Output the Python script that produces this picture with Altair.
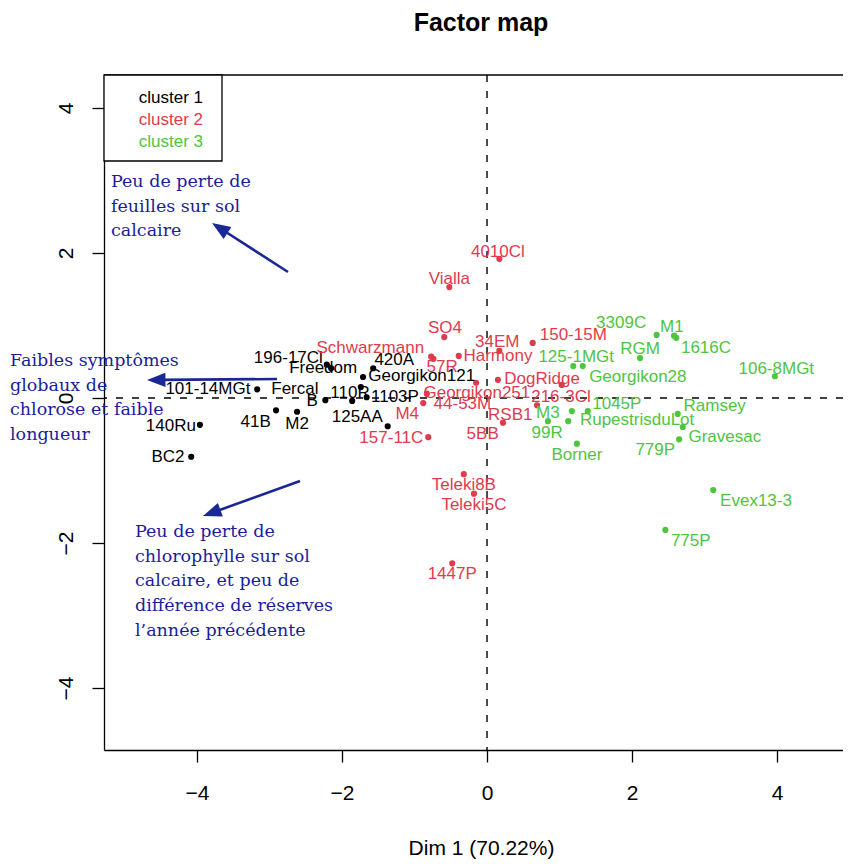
import math
import altair as alt
import pandas as pd

# ---------------- data ----------------
cluster_names = ["cluster 1", "cluster 2", "cluster 3"]
cluster_colors = ["#000000", "#DF3B4E", "#4FC43F"]

c1_names = ["196-17Cl", "Freedom", "420A", "Georgikon121", "110R", "1103P", "Fercal", "B",
            "125AA", "101-14MGt", "41B", "M2", "140Ru", "BC2"]
c1_x = [-2.21, -2.15, -1.57, -1.71, -1.74, -1.66, -2.23, -1.86, -1.37, -3.17, -2.91, -2.62, -3.96, -4.08]
c1_y = [0.46, 0.41, 0.41, 0.29, 0.15, 0.01, -0.03, -0.04, -0.39, 0.12, -0.17, -0.19, -0.37, -0.81]
c1_lx = [-2.74, -2.26, -1.28, -0.90, -1.89, -1.27, -2.65, -2.41, -1.79, -3.85, -3.19, -2.62, -4.36, -4.40]
c1_ly = [0.55, 0.41, 0.52, 0.30, 0.07, 0.01, 0.12, -0.04, -0.26, 0.12, -0.33, -0.36, -0.39, -0.81]

c2_names = ["4010Cl", "Vialla", "SO4", "34EM", "150-15M", "Schwarzmann", "Harmony", "57R", "DogRidge",
            "Georgikon251", "44-53M", "M4", "216-3Cl", "RSB1", "5BB", "157-11C", "Teleki8B", "Teleki5C", "1447P"]
c2_x = [0.17, -0.52, -0.59, 0.17, 0.63, -0.77, -0.39, -0.74, 0.15, -0.15, -0.83, -0.88, 1.03, 0.69, 0.22,
        -0.81, -0.32, -0.18, -0.48]
c2_y = [1.92, 1.53, 0.84, 0.65, 0.76, 0.57, 0.58, 0.54, 0.25, 0.21, 0.06, -0.07, 0.18, -0.10, -0.34,
        -0.54, -1.05, -1.32, -2.28]
c2_lx = [0.15, -0.52, -0.58, 0.14, 1.19, -1.61, 0.15, -0.62, 0.76, -0.14, -0.34, -1.10, 1.02, 0.32, -0.06,
         -1.32, -0.32, -0.18, -0.48]
c2_ly = [2.01, 1.64, 0.97, 0.77, 0.87, 0.69, 0.58, 0.43, 0.26, 0.07, -0.08, -0.22, 0.01, -0.23, -0.50,
         -0.55, -1.20, -1.48, -2.43]

c3_names = ["3309C", "M1", "1616C", "RGM", "125-1MGt", "Georgikon28", "106-8MGt", "1045P", "M3",
            "RupestrisduLot", "99R", "Borner", "Ramsey", "779P", "Gravesac", "Evex13-3", "775P"]
c3_x = [2.34, 2.58, 2.61, 2.11, 1.19, 1.32, 3.97, 1.39, 1.17, 1.12, 0.84, 1.24, 2.63, 2.70, 2.65, 3.12, 2.46]
c3_y = [0.87, 0.86, 0.83, 0.55, 0.44, 0.44, 0.30, -0.18, -0.18, -0.32, -0.32, -0.63, -0.22, -0.40, -0.57,
        -1.27, -1.82]
c3_lx = [1.85, 2.55, 3.02, 2.11, 1.23, 2.08, 3.99, 1.79, 0.84, 2.07, 0.83, 1.24, 3.14, 2.32, 3.28, 3.71, 2.81]
c3_ly = [1.03, 0.98, 0.69, 0.68, 0.57, 0.29, 0.40, -0.08, -0.21, -0.30, -0.48, -0.79, -0.11, -0.72, -0.54,
         -1.42, -1.97]

tick_values = [-4, -2, 0, 2, 4]

annot_texts = [
    "Peu de perte de\nfeuilles sur sol\ncalcaire",
    "Faibles symptômes\nglobaux de\nchlorose et faible\nlongueur",
    "Peu de perte de\nchlorophylle sur sol\ncalcaire, et peu de\ndifférence de réserves\nl\u2019année précédente",
]

# ---------------- layout (pixels, relative to plot area) ----------------
W, H = 739, 675
X_DOMAIN = [-5.283, 4.910]
Y_DOMAIN = [-4.855, 4.455]
BLUE = "#1C1C9C"
ARROW_BLUE = "#1A2896"
annot_pos = [(7, 112), (-94, 291), (31, 462)]
arrows = [((184, 197), (108, 148)), ((173, 304), (43, 305)), ((196, 406), (99, 441))]

rows = []
for cl, names, xs_, ys_, lxs, lys in [
    (cluster_names[0], c1_names, c1_x, c1_y, c1_lx, c1_ly),
    (cluster_names[1], c2_names, c2_x, c2_y, c2_lx, c2_ly),
    (cluster_names[2], c3_names, c3_x, c3_y, c3_lx, c3_ly),
]:
    for n, x, y, lx, ly in zip(names, xs_, ys_, lxs, lys):
        rows.append(dict(cluster=cl, name=n, x=x, y=y, lx=lx, ly=ly))
df = pd.DataFrame(rows)

xs = alt.Scale(domain=X_DOMAIN, nice=False, zero=False)
ys = alt.Scale(domain=Y_DOMAIN, nice=False, zero=False)
cscale = alt.Scale(domain=cluster_names, range=cluster_colors)

FONT = "Liberation Sans"
x_axis = alt.Axis(values=tick_values, title="Dim 1 (70.22%)", grid=False,
                  domainColor="black", domainWidth=1.3, tickColor="black", tickWidth=1.3, tickSize=12,
                  labelFont=FONT, labelFontSize=21, labelColor="black", labelPadding=20,
                  titleFont=FONT, titleFontSize=21, titleFontWeight="normal", titleColor="black",
                  titleX=377, titleY=104, titleAlign="center", titleBaseline="alphabetic")
y_axis = alt.Axis(values=tick_values, title=None, grid=False,
                  domainColor="black", domainWidth=1.3, tickColor="black", tickWidth=1.3, tickSize=12,
                  labelFont=FONT, labelFontSize=21, labelColor="black", labelPadding=20,
                  labelAngle=270, labelAlign="center", labelBaseline="alphabetic")

one = pd.DataFrame({"k": [0]})
zero = pd.DataFrame({"v": [0]})

top_frame = alt.Chart(one).mark_rule(color="black", strokeWidth=1.3).encode(
    x=alt.value(0), x2=alt.value(W), y=alt.value(0))

vline = alt.Chart(zero).mark_rule(color="black", strokeWidth=1.4, strokeDash=[7, 9]).encode(
    x=alt.X("v:Q", scale=xs, axis=x_axis))
hline = alt.Chart(zero).mark_rule(color="black", strokeWidth=1.4, strokeDash=[7, 9]).encode(
    y=alt.Y("v:Q", scale=ys, axis=y_axis))

points = alt.Chart(df).mark_point(filled=True, size=38, opacity=1).encode(
    x=alt.X("x:Q", scale=xs, axis=x_axis),
    y=alt.Y("y:Q", scale=ys, axis=y_axis),
    color=alt.Color("cluster:N", scale=cscale, legend=None))

labels = alt.Chart(df).mark_text(font=FONT, fontSize=17, align="center", baseline="middle").encode(
    x=alt.X("lx:Q", scale=xs, axis=x_axis),
    y=alt.Y("ly:Q", scale=ys, axis=y_axis),
    text="name:N",
    color=alt.Color("cluster:N", scale=cscale, legend=None))

layers = [top_frame, vline, hline, points, labels]

# legend box
layers.append(alt.Chart(one).mark_rect(fill="white", stroke="black", strokeWidth=1.3).encode(
    x=alt.value(0), x2=alt.value(118), y=alt.value(0), y2=alt.value(86)))
for i, (nm, col) in enumerate(zip(cluster_names, cluster_colors)):
    layers.append(alt.Chart(one).mark_text(text=nm, font=FONT, fontSize=17, color=col,
                                           align="right", baseline="alphabetic").encode(
        x=alt.value(99), y=alt.value(28 + 22 * i)))

# arrows
for (x0, y0), (x1, y1) in arrows:
    ang = math.degrees(math.atan2(x1 - x0, -(y1 - y0))) % 360
    L = math.hypot(x1 - x0, y1 - y0)
    bx = x1 - (x1 - x0) / L * 12
    by = y1 - (y1 - y0) / L * 12
    layers.append(alt.Chart(one).mark_rule(color=ARROW_BLUE, strokeWidth=2.6).encode(
        x=alt.value(x0), y=alt.value(y0), x2=alt.value(bx), y2=alt.value(by)))
    layers.append(alt.Chart(one).mark_point(shape="M0,0L0.7,1.8L-0.7,1.8Z", filled=True, opacity=1,
                                            size=420, color=ARROW_BLUE, angle=ang).encode(
        x=alt.value(x1), y=alt.value(y1)))

for txt, (tx, ty) in zip(annot_texts, annot_pos):
    layers.append(alt.Chart(one).mark_text(text=txt, lineBreak="\n", font="DejaVu Serif", fontSize=17.5,
                                           lineHeight=24.7, color=BLUE, align="left",
                                           baseline="alphabetic").encode(
        x=alt.value(tx), y=alt.value(ty)))

# title
layers.append(alt.Chart(one).mark_text(text="Factor map", font=FONT, fontSize=25, fontWeight="bold",
                                       color="black", align="center", baseline="alphabetic").encode(
    x=alt.value(377), y=alt.value(-44)))

chart = alt.layer(*layers).properties(
    width=W, height=H,
    autosize=alt.AutoSizeParams(type="none"),
    padding={"left": 96, "top": 67, "right": 0, "bottom": 115},
    background="white",
).configure_view(stroke=None)

chart.save("out.html", embed_options={"renderer": "svg", "actions": False})
